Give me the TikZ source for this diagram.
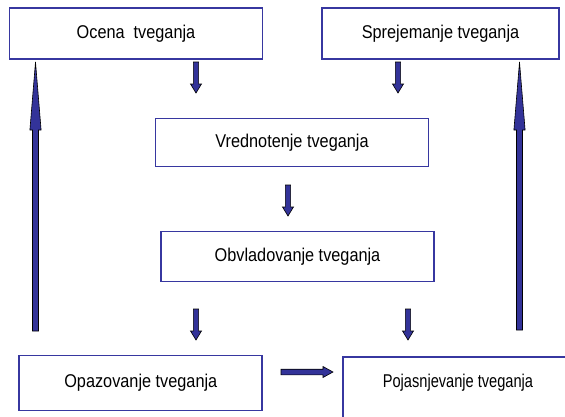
\documentclass[tikz,border=0pt]{standalone}
\usepackage{fontspec}
\setmainfont{Liberation Sans}[FakeStretch=0.88]
\newfontfamily\tightfont{Liberation Sans}[FakeStretch=0.79]
\usetikzlibrary{calc}
\definecolor{boxblue}{RGB}{55,55,160}
\definecolor{arrowblue}{RGB}{51,51,153}

% Block arrow from #1 to #2: half shaft width #3, half head width #4, head length #5
\newcommand\blockarrow[5]{%
  \coordinate (#1-#2-h) at ($(#2)!#5!(#1)$);
  \filldraw[arrowpoly]
    ($(#1)!#3!-90:(#2)$) -- ($(#1-#2-h)!#3!-90:(#2)$) -- ($(#1-#2-h)!#4!-90:(#2)$)
    -- (#2) --
    ($(#1-#2-h)!#4!90:(#2)$) -- ($(#1-#2-h)!#3!90:(#2)$) -- ($(#1)!#3!90:(#2)$) -- cycle;
}

\begin{document}
\begin{tikzpicture}[x=1pt,y=-1pt,
  box/.style={draw=boxblue, line width=1.8pt, fill=white, rectangle,
    inner sep=0pt, font=\fontsize{18.5}{22}\selectfont},
  arrowpoly/.style={fill=arrowblue, draw=black, line width=0.6pt, line join=miter}]
  \useasboundingbox (0,0) rectangle (565,416);
  \clip (0,0) rectangle (565,416);

  % process boxes
  \node[box, minimum width=253pt, minimum height=51pt] (ocena) at (136,33.5) {Ocena\ \ tveganja};
  \node[box, minimum width=237pt, minimum height=51pt] (sprejem) at (440.5,33.5) {Sprejemanje tveganja};
  \node[box, minimum width=273pt, minimum height=48pt] (vredn) at (292,142.5) {Vrednotenje tveganja};
  \node[box, minimum width=273pt, minimum height=50pt] (obvlad) at (297.5,256.5) {Obvladovanje tveganja};
  \node[box, minimum width=243pt, minimum height=55pt] (opaz) at (140.8,383) {Opazovanje tveganja};
  \node[box, minimum width=240pt, minimum height=62pt, anchor=north west] (pojas) at (342,356) {};
  \node[font=\fontsize{18.5}{22}\tightfont] (pojastxt) at (458,383) {Pojasnjevanje tveganja};

  % arrow end points
  \coordinate (a1s) at (196,62);   \coordinate (a1e) at (196,93);
  \coordinate (a2s) at (398,62);   \coordinate (a2e) at (398,93);
  \coordinate (a3s) at (288,185);  \coordinate (a3e) at (288,216);
  \coordinate (a4s) at (196,309);  \coordinate (a4e) at (196,340);
  \coordinate (a5s) at (408,309);  \coordinate (a5e) at (408,340);
  \coordinate (a6s) at (281,372);  \coordinate (a6e) at (333,372);
  \coordinate (l1s) at (35.5,331); \coordinate (l1e) at (35.5,62);
  \coordinate (r1s) at (519.5,330);\coordinate (r1e) at (519.5,62);

  % short block arrows
  \blockarrow{a1s}{a1e}{2.6pt}{5.5pt}{9pt}
  \blockarrow{a2s}{a2e}{2.6pt}{5.5pt}{9pt}
  \blockarrow{a3s}{a3e}{2.6pt}{5.5pt}{9pt}
  \blockarrow{a4s}{a4e}{2.6pt}{5.5pt}{9pt}
  \blockarrow{a5s}{a5e}{2.6pt}{5.5pt}{9pt}
  \blockarrow{a6s}{a6e}{2.8pt}{5.5pt}{10pt}

  % long return arrows
  \blockarrow{l1s}{l1e}{3pt}{5.6pt}{68pt}
  \blockarrow{r1s}{r1e}{3pt}{5.6pt}{68pt}
\end{tikzpicture}
\end{document}
